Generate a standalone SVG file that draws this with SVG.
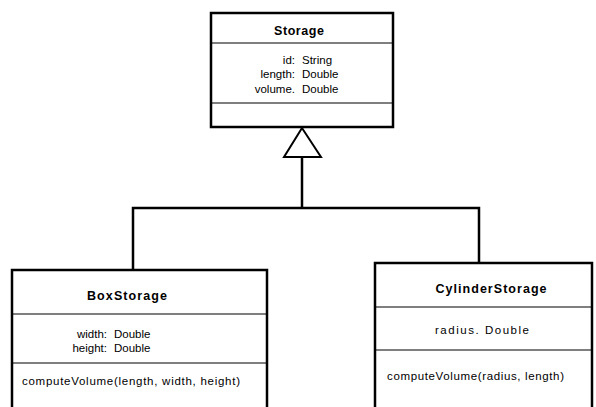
<svg xmlns="http://www.w3.org/2000/svg" width="596" height="407" viewBox="0 0 596 407">
<style>
.box{fill:#fff;stroke:#000;stroke-width:2.5}
.div{stroke:#000;stroke-width:1.2}
.t{font-family:"Liberation Sans",Arial,sans-serif;font-size:11.5px;fill:#000}
.b{font-weight:bold;font-size:12.5px}
.conn{fill:none;stroke:#000;stroke-width:2.5}
</style>
<rect width="596" height="407" fill="#fff"/>
<g id="connectors">
<polyline class="conn" points="133,270 133,208 479,208 479,263"/>
<line class="conn" x1="302" y1="208" x2="302" y2="157"/>
<polygon points="302,128 284,157 321,157" fill="#fff" stroke="#000" stroke-width="2"/>
</g>
<g id="Storage">
<rect class="box" x="211" y="13" width="182" height="114"/>
<line class="div" x1="211" y1="43" x2="393" y2="43"/>
<line class="div" x1="211" y1="103" x2="393" y2="103"/>
<text class="t b" x="299" y="35" text-anchor="middle" textLength="50">Storage</text>
<text class="t" x="295" y="64" text-anchor="end">id:</text>
<text class="t" x="302" y="64">String</text>
<text class="t" x="295" y="78" text-anchor="end">length:</text>
<text class="t" x="302" y="78">Double</text>
<text class="t" x="295" y="93" text-anchor="end">volume.</text>
<text class="t" x="302" y="93">Double</text>
</g>
<g id="BoxStorage">
<rect class="box" x="12" y="270" width="255" height="150"/>
<line class="div" x1="12" y1="314" x2="267" y2="314"/>
<line class="div" x1="12" y1="363" x2="267" y2="363"/>
<text class="t b" x="127" y="300" text-anchor="middle" textLength="80" lengthAdjust="spacing">BoxStorage</text>
<text class="t" x="107" y="338" text-anchor="end">width:</text>
<text class="t" x="114" y="338">Double</text>
<text class="t" x="107" y="352" text-anchor="end">height:</text>
<text class="t" x="114" y="352">Double</text>
<text class="t" x="22" y="385" textLength="218" lengthAdjust="spacing">computeVolume(length,  width,  height)</text>
</g>
<g id="CylinderStorage">
<rect class="box" x="375" y="263" width="217" height="160"/>
<line class="div" x1="375" y1="307" x2="592" y2="307"/>
<line class="div" x1="375" y1="350" x2="592" y2="350"/>
<text class="t b" x="491" y="293" text-anchor="middle" textLength="111" lengthAdjust="spacing">CylinderStorage</text>
<text class="t" x="482" y="334" text-anchor="middle" textLength="94" lengthAdjust="spacing">radius.  Double</text>
<text class="t" x="387" y="380" textLength="177" lengthAdjust="spacing">computeVolume(radius,  length)</text>
</g>
</svg>
